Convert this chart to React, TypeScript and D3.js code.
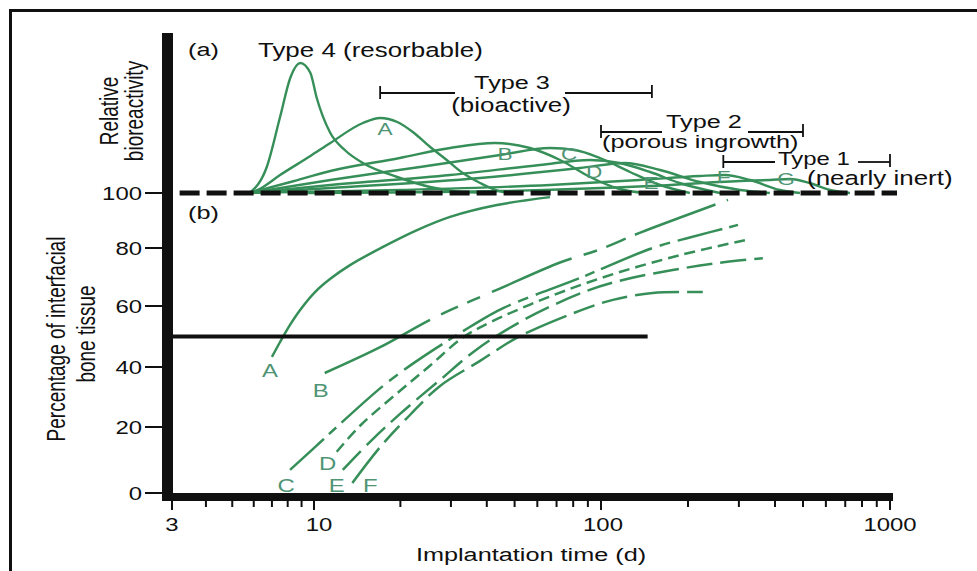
import React from "react";
import * as d3 from "d3";

type P = [number, number];

// ---------- axis ticks ----------
const X_MAJOR = [3, 10, 100, 1000];
const X_MINOR = [4, 5, 6, 7, 8, 9, 20, 30, 40, 50, 60, 70, 80, 90, 200, 300, 400, 500, 600, 700, 800, 900];
const Y_TICKS = [0, 20, 40, 60, 80, 100];

// ---------- (a) relative bioreactivity, [days, relative value], baseline = 100 ----------
const BIO_TYPE4: P[] = [[5.8, 100], [6.7, 126], [7.5, 176], [8.2, 216], [8.9, 230], [9.7, 220], [10.2, 196], [11.4, 160], [12.8, 143], [14.8, 130], [19.5, 116], [25.4, 106], [33, 101], [43, 100]];
const BIO_A: P[] = [[5.8, 100], [6.3, 104], [7.5, 118], [9.7, 137], [11.4, 150], [14.8, 170], [17, 175], [19.5, 171], [22.1, 161], [25.4, 146], [29, 133], [33, 120], [37.9, 110], [45.6, 101], [51, 100]];
const BIO_B: P[] = [[5.8, 100], [8.2, 111], [11.4, 122], [19.9, 135], [29.8, 145], [42.7, 150], [56.6, 145], [72, 133], [91.6, 116], [116, 104], [142, 100]];
const BIO_C: P[] = [[5.8, 100], [11.4, 113], [23.4, 126], [44.5, 138], [66.5, 145], [81.2, 143], [99.2, 135], [126, 121], [160, 108], [203, 100]];
const BIO_D: P[] = [[5.8, 100], [11.4, 108], [29.8, 118], [61.2, 128], [91.6, 133], [116, 130], [148, 121], [187, 110], [258, 100]];
const BIO_E: P[] = [[5.8, 100], [11.4, 105], [37.9, 115], [84.6, 125], [121, 130], [160, 123], [220, 111], [303, 103], [384, 100]];
const BIO_F: P[] = [[5.8, 100], [19.9, 103], [66.5, 108], [136, 113], [220, 117], [268, 118], [328, 113], [416, 103], [488, 100]];
const BIO_G: P[] = [[8.9, 100], [44.4, 102], [148, 107], [303, 112], [384, 113], [451, 114], [527, 110], [620, 103], [727, 100]];

// ---------- (b) percentage of interfacial bone tissue, [days, %] ----------
const PCT_A: P[] = [[7.0, 43.3], [7.5, 48.2], [8.16, 53.8], [8.89, 58.7], [10.08, 64.8], [11.37, 69.3], [13.35, 74.1], [17.4, 80.4], [22.86, 86.5], [29.8, 91.3], [43.4, 95.6], [66.4, 98.5]];
const PCT_B: P[] = [[10.9, 38], [17, 46.5], [25.4, 55.5], [33, 60.5], [44.4, 66], [72, 75], [99, 79.5], [136, 85.5], [187, 91], [275, 97.5]];
const PCT_C: P[] = [[8.16, 7], [10.08, 13.9], [12.32, 21], [17.4, 33.7], [22.5, 41.6], [34.9, 53.1], [45.6, 59.3], [84.6, 69.7], [151, 80], [206, 84], [298, 88.4]];
const PCT_D: P[] = [[12, 12.5], [14.5, 20.5], [19.9, 32], [25.4, 40.5], [32.3, 49], [37.9, 53], [56.6, 60.5], [99, 69.5], [187, 77.5], [320, 83]];
const PCT_E: P[] = [[12.6, 7], [15.67, 15.5], [19.9, 24.3], [27.5, 35.7], [37.2, 46], [55.2, 56], [89.2, 65.2], [123, 69.3], [177, 72.4], [252, 74.8], [363, 76.5]];
const PCT_F: P[] = [[13.6, 3], [17, 13.9], [21.6, 24], [27.5, 33.7], [37.9, 42], [49.4, 48.9], [57.8, 52.1], [89.2, 59.3], [110, 62.1], [151, 64.5], [225, 64.8]];

// ---------- reference lines & type ranges (days / values) ----------
const BASELINE_DAYS = [3.2, 1000];
const BASELINE_VALUE = 100;
const HALF_DAYS = [3, 145];
const HALF_VALUE = 50;
const TYPE3_RANGE = [17, 150];
const TYPE2_RANGE = [100, 500];
const TYPE1_RANGE = [265, 1000];

// ---------- layout / style ----------
const X_RANGE = [172, 314, 601, 890];
const Y_RANGE = [493, 427, 367, 306, 248, 193];
const SX = 1.33;
const FONT = "'Liberation Sans', Arial, Helvetica, sans-serif";
const GREEN = "#368f58";
const LABEL_GREEN = "#4f9474";
const INK = "#101010";

function Txt({ x, y, size = 19, anchor = "start", fill = INK, rotate = 0, children }: any) {
  const tr = `translate(${x},${y}) scale(${SX},1)` + (rotate ? ` rotate(${rotate})` : "");
  return (
    <text transform={tr} fontSize={size} textAnchor={anchor} fill={fill} fontFamily={FONT}>
      {children}
    </text>
  );
}

export default function App() {
  const x = d3.scaleLog().domain(X_MAJOR).range(X_RANGE);
  const yPct = d3.scaleLinear().domain(Y_TICKS).range(Y_RANGE);
  const yBio = d3.scaleLinear().domain([100, 230]).range([193, 63]);

  const lineBio = d3.line<P>().x((d) => x(d[0])).y((d) => yBio(d[1])).curve(d3.curveMonotoneX);
  const linePct = d3.line<P>().x((d) => x(d[0])).y((d) => yPct(d[1])).curve(d3.curveCatmullRom.alpha(0.5));

  const bioSeries = [
    { key: "T4", data: BIO_TYPE4, label: "", dx: 0, dy: 0 },
    { key: "A", data: BIO_A, label: "A", dx: 5, dy: 17 },
    { key: "B", data: BIO_B, label: "B", dx: 10, dy: 17 },
    { key: "C", data: BIO_C, label: "C", dx: 19, dy: 12 },
    { key: "D", data: BIO_D, label: "D", dx: 4, dy: 18 },
    { key: "E", data: BIO_E, label: "E", dx: 26, dy: 26 },
    { key: "F", data: BIO_F, label: "F", dx: -1, dy: 8 },
    { key: "G", data: BIO_G, label: "G", dx: -4, dy: 6 },
  ];

  const pctSeries = [
    { key: "A", data: PCT_A, dash: "none", dx: -2, dy: 20 },
    { key: "B", data: PCT_B, dash: "118 12 19 10 14 13 86 13 14 10 21 10 86 12", dx: -4, dy: 24 },
    { key: "C", data: PCT_C, dash: "46 7 10 7 55 8 11 8", dx: -4, dy: 22 },
    { key: "D", data: PCT_D, dash: "11 6", dx: -9, dy: 18 },
    { key: "E", data: PCT_E, dash: "26 8", dx: -6, dy: 22 },
    { key: "F", data: PCT_F, dash: "44 8 22 8 26 8", dx: 18, dy: 9 },
  ];

  const bracket = (range: number[], y: number, gapL: number, gapR: number) => {
    const x0 = x(range[0]);
    const x1 = x(range[1]);
    return (
      <g stroke={INK} strokeWidth={1.8}>
        <line x1={x0} x2={gapL} y1={y} y2={y} />
        <line x1={gapR} x2={x1} y1={y} y2={y} />
        <line x1={x0} x2={x0} y1={y - 7} y2={y + 6} />
        <line x1={x1} x2={x1} y1={y - 8} y2={y + 5} />
      </g>
    );
  };

  return (
    <svg width={977} height={571} style={{ position: "absolute", left: 0, top: 0, background: "#fff" }}>
      <rect x={0} y={0} width={977} height={571} fill="#fff" />
      <rect x={10.5} y={10.5} width={1200} height={1200} fill="none" stroke={INK} strokeWidth={3} />

      {/* (a) curves */}
      <g fill="none" stroke={GREEN} strokeWidth={2.4}>
        {bioSeries.map((s) => (
          <path key={s.key} d={lineBio(s.data) || ""} />
        ))}
      </g>
      {bioSeries
        .filter((s) => s.label)
        .map((s) => {
          const pk = d3.greatest(s.data, (d) => d[1]) as P;
          return (
            <Txt key={s.key} x={x(pk[0]) + s.dx} y={yBio(pk[1]) + s.dy} size={17} anchor="middle" fill={LABEL_GREEN}>
              {s.label}
            </Txt>
          );
        })}

      {/* dashed 100 baseline */}
      <line
        x1={x(BASELINE_DAYS[0])}
        x2={x(BASELINE_DAYS[1]) + 7}
        y1={yBio(BASELINE_VALUE)}
        y2={yBio(BASELINE_VALUE)}
        stroke={INK}
        strokeWidth={5}
        strokeDasharray="20 7"
      />

      {/* (b) curves */}
      <g fill="none" stroke={GREEN} strokeWidth={2.5}>
        {pctSeries.map((s) => (
          <path key={s.key} d={linePct(s.data) || ""} strokeDasharray={s.dash} />
        ))}
      </g>
      {pctSeries.map((s) => (
        <Txt key={s.key} x={x(s.data[0][0]) + s.dx} y={yPct(s.data[0][1]) + s.dy} size={18} anchor="middle" fill={LABEL_GREEN}>
          {s.key}
        </Txt>
      ))}

      {/* 50% line */}
      <line x1={x(HALF_DAYS[0])} x2={x(HALF_DAYS[1])} y1={yPct(HALF_VALUE)} y2={yPct(HALF_VALUE)} stroke={INK} strokeWidth={4} />

      {/* type brackets */}
      {bracket(TYPE3_RANGE, 93, 455, 565)}
      {bracket(TYPE2_RANGE, 132, 662, 748)}
      {bracket(TYPE1_RANGE, 162, 775, 858)}

      <Txt x={258} y={57} size={19.5}>Type 4 (resorbable)</Txt>
      <Txt x={512} y={89} size={19} anchor="middle">Type 3</Txt>
      <Txt x={511} y={112} size={19.5} anchor="middle">(bioactive)</Txt>
      <Txt x={666} y={128} size={19}>Type 2</Txt>
      <Txt x={602} y={148} size={19}>(porous ingrowth)</Txt>
      <Txt x={778} y={165} size={18}>Type 1</Txt>
      <Txt x={807} y={185} size={19.5}>(nearly inert)</Txt>
      <Txt x={188} y={56} size={19}>(a)</Txt>
      <Txt x={188} y={219} size={19}>(b)</Txt>

      {/* axes */}
      <line x1={167.5} x2={167.5} y1={33} y2={501} stroke={INK} strokeWidth={11} />
      <line x1={162} x2={893} y1={497} y2={497} stroke={INK} strokeWidth={8} />
      <g stroke={INK} strokeWidth={2}>
        {Y_TICKS.map((t) => (
          <line key={t} x1={145} x2={163} y1={yPct(t)} y2={yPct(t)} />
        ))}
        {X_MINOR.map((t) => (
          <line key={t} x1={x(t)} x2={x(t)} y1={500} y2={507} />
        ))}
        {X_MAJOR.map((t) => (
          <line key={t} x1={x(t)} x2={x(t)} y1={500} y2={510} />
        ))}
      </g>
      {Y_TICKS.map((t) => (
        <Txt key={t} x={142} y={yPct(t) + 7} size={18} anchor="end">
          {String(t)}
        </Txt>
      ))}
      {X_MAJOR.map((t) => (
        <Txt key={t} x={x(t) + (t === 10 ? 5 : t === 100 ? 2 : 0)} y={531} size={18} anchor="middle">
          {String(t)}
        </Txt>
      ))}
      <Txt x={531} y={561} size={19} anchor="middle">Implantation time (d)</Txt>

      <Txt x={118} y={111} size={19} anchor="middle" rotate={-90}>Relative</Txt>
      <Txt x={143} y={111} size={19} anchor="middle" rotate={-90}>bioreactivity</Txt>
      <Txt x={65} y={339} size={19} anchor="middle" rotate={-90}>Percentage of interfacial</Txt>
      <Txt x={95} y={334} size={19} anchor="middle" rotate={-90}>bone tissue</Txt>
    </svg>
  );
}
